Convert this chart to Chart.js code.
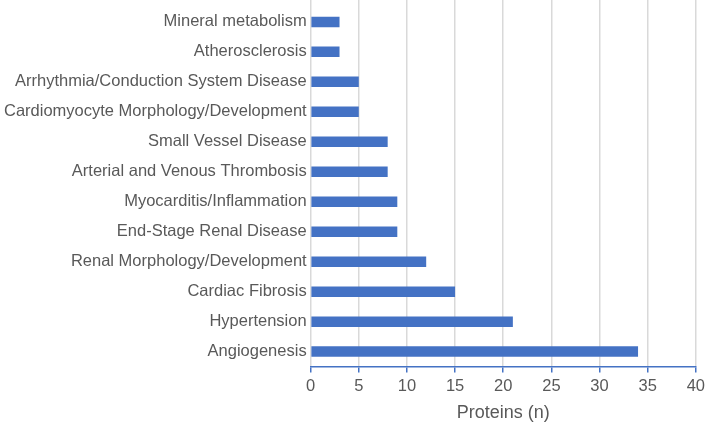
<!DOCTYPE html>
<html>
<head>
<meta charset="utf-8">
<script src="https://cdn.jsdelivr.net/npm/chart.js@4/dist/chart.umd.min.js"></script>
<style>
html,body{margin:0;padding:0;background:#fff;}
#wrap{width:709px;height:428px;}
</style>
</head>
<body>
<div id="wrap"><canvas id="c" width="709" height="428"></canvas></div>
<script>
const categories = [
  "Mineral metabolism",
  "Atherosclerosis",
  "Arrhythmia/Conduction System Disease",
  "Cardiomyocyte Morphology/Development",
  "Small Vessel Disease",
  "Arterial and Venous Thrombosis",
  "Myocarditis/Inflammation",
  "End-Stage Renal Disease",
  "Renal Morphology/Development",
  "Cardiac Fibrosis",
  "Hypertension",
  "Angiogenesis"
];
const proteins = [3, 3, 5, 5, 8, 8, 9, 9, 12, 15, 21, 34];
const xTicks = [0, 5, 10, 15, 20, 25, 30, 35, 40];
const xTitle = "Proteins (n)";

Chart.defaults.font.family = "'Liberation Sans', Arial, sans-serif";
Chart.defaults.color = "#595959";

new Chart(document.getElementById('c'), {
  type: 'bar',
  data: {
    datasets: [{
      data: proteins.map((v, i) => ({ x: v, y: i })),
      backgroundColor: '#4472c4',
      borderWidth: 0,
      barPercentage: 0.7,
      categoryPercentage: 0.5
    }]
  },
  options: {
    indexAxis: 'y',
    responsive: false,
    animation: false,
    layout: { padding: { top: 0, right: 11, left: 0, bottom: 4 } },
    plugins: { legend: { display: false }, tooltip: { enabled: false } },
    scales: {
      x: {
        type: 'linear',
        min: 0, max: 40,
        afterBuildTicks: (s) => { s.ticks = xTicks.map(v => ({ value: v })); },
        grid: { color: '#d9d9d9', lineWidth: 1.5, tickColor: '#4472c4', tickLength: 6, drawTicks: true },
        border: { color: '#4472c4', width: 1.5 },
        ticks: { font: { size: 16.5 }, color: '#595959', padding: 4 },
        title: { display: true, text: xTitle, font: { size: 18 }, color: '#595959', padding: { top: 2, bottom: 0 } }
      },
      y: {
        type: 'linear',
        reverse: true,
        offset: false,
        bounds: 'data',
        min: -0.73,
        max: 11.5,
        afterBuildTicks: (s) => { s.ticks = categories.map((_, i) => ({ value: i })); },
        afterFit: (s) => { s.paddingTop = 0; s.paddingBottom = 0; },
        grid: { display: false, drawTicks: false, offset: false },
        border: { display: false },
        ticks: { font: { size: 16.5 }, color: '#595959', padding: 4, callback: (v) => categories[v] }
      }
    }
  }
});
</script>
</body>
</html>
